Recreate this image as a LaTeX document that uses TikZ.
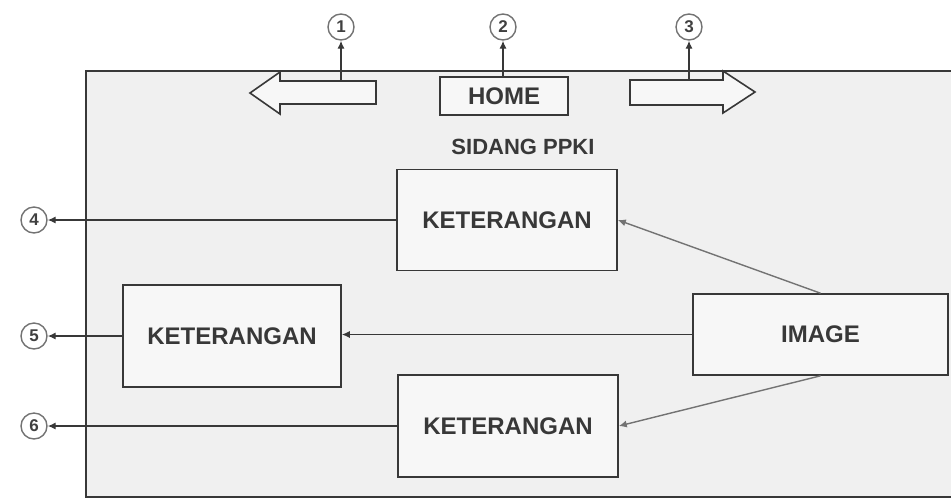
\documentclass[tikz,border=0pt]{standalone}
\usepackage{fontspec}
\setmainfont{Liberation Sans}
\usetikzlibrary{arrows.meta}
\definecolor{ink}{gray}{0.22}
\definecolor{soft}{gray}{0.45}
\definecolor{paper}{gray}{0.94}
\tikzset{
  boxnode/.style={draw=ink, line width=0.8pt, fill=white!97!black, inner sep=0pt,
    text=black!78, font=\bfseries\fontsize{12}{14}\selectfont},
  numnode/.style={circle, draw=soft, line width=0.7pt, fill=white, minimum size=13pt,
    inner sep=0pt, font=\bfseries\fontsize{8.5}{9}\selectfont, text=black!75},
  conn/.style={draw=ink, line width=0.7pt, -{Latex[length=4pt,width=3.6pt]}},
  softconn/.style={draw=soft, line width=0.7pt, -{Latex[length=4pt,width=3.6pt]}},
  blockarrow/.style={draw=ink, line width=0.8pt, fill=white!97!black, line join=miter}
}
\begin{document}
\begin{tikzpicture}[x=0.5pt,y=-0.5pt]
\useasboundingbox (0,0) rectangle (951,499);
% frame
\fill[paper] (86,71) rectangle (951,497);
\draw[ink, line width=0.8pt] (951,71) -- (86,71) -- (86,497) -- (951,497);
% block arrows
\draw[blockarrow] (250,93) -- (280,72) -- (280,81) -- (376,81) -- (376,104) -- (280,104) -- (280,114) -- cycle;
\draw[blockarrow] (630,80) -- (723,80) -- (723,71) -- (755,92) -- (723,113) -- (723,105) -- (630,105) -- cycle;
\coordinate (lar) at (341,81);
\coordinate (rar) at (689,80);
% nodes
\node[boxnode, minimum width=64pt, minimum height=19pt] (home) at (504,96) {HOME};
\node[text=black!78, font=\bfseries\fontsize{11}{13}\selectfont] (title) at (523,147) {SIDANG PPKI};
\node[boxnode, minimum width=110pt, minimum height=50.5pt] (k1) at (507,220) {KETERANGAN};
\node[boxnode, minimum width=109pt, minimum height=51pt] (k2) at (232,336) {KETERANGAN};
\node[boxnode, minimum width=110pt, minimum height=51pt] (k3) at (508,426) {KETERANGAN};
\node[boxnode, minimum width=127.5pt, minimum height=40.5pt] (img) at (820.5,334.5) {IMAGE};
% numbered circles
\node[numnode] (c1) at (341,27) {1};
\node[numnode] (c2) at (503,27) {2};
\node[numnode] (c3) at (689,27) {3};
\node[numnode] (c4) at (34,220) {4};
\node[numnode] (c5) at (34,336) {5};
\node[numnode] (c6) at (34,426) {6};
% connectors
\draw[conn] (lar) -- (c1.south);
\draw[conn] (home.north -| c2) -- (c2.south);
\draw[conn] (rar) -- (c3.south);
\draw[conn] (k1.west) -- (c4.east);
\draw[conn] (k2.west) -- (c5.east);
\draw[conn] (k3.west) -- (c6.east);
\draw[conn] (img.west) -- (img.west -| k2.east);
\draw[softconn] (img.north) -- (k1.east);
\draw[softconn] (img.south) -- (k3.east);
\end{tikzpicture}
\end{document}
